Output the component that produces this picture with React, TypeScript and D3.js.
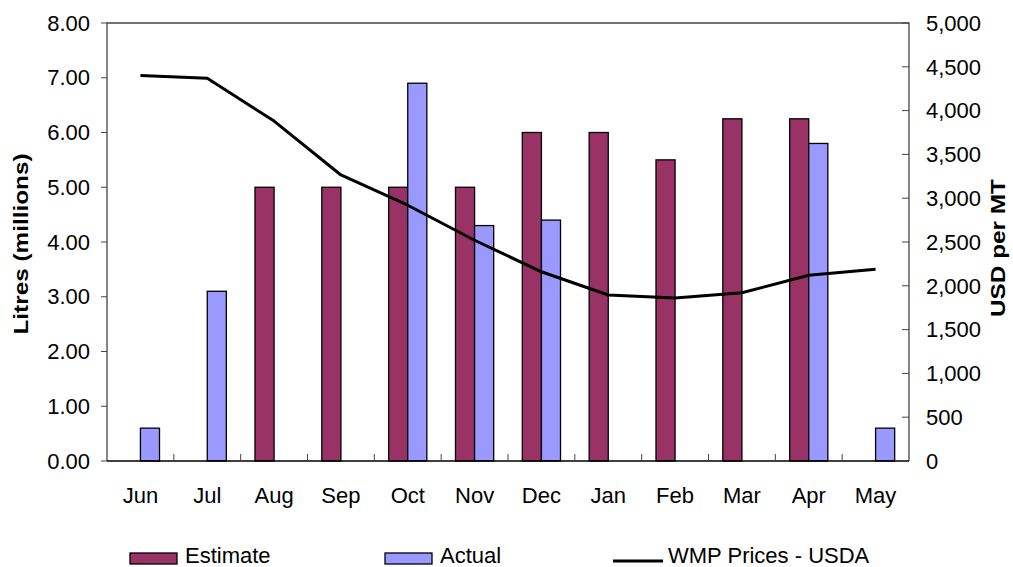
import React, { useEffect, useRef } from 'react';
import * as d3 from 'd3';

const months = ['Jun', 'Jul', 'Aug', 'Sep', 'Oct', 'Nov', 'Dec', 'Jan', 'Feb', 'Mar', 'Apr', 'May'];
const estimate = [0, 0, 5, 5, 5, 5, 6, 6, 5.5, 6.25, 6.25, 0];
const actual = [0.6, 3.1, 0, 0, 6.9, 4.3, 4.4, 0, 0, 0, 5.8, 0.6];
const wmpPrices = [4400, 4370, 3880, 3265, 2920, 2520, 2160, 1895, 1860, 1920, 2120, 2190];
const leftTicks = [0, 1, 2, 3, 4, 5, 6, 7, 8];
const rightTicks = [0, 500, 1000, 1500, 2000, 2500, 3000, 3500, 4000, 4500, 5000];

const W = 1013;
const H = 567;
const margin = { top: 23, right: 110, bottom: 106, left: 107 };
const font = 'Liberation Sans, Arial, sans-serif';
const fs = 22;

export default function App() {
  const ref = useRef<SVGSVGElement>(null);

  useEffect(() => {
    const svg = d3.select(ref.current);
    svg.selectAll('*').remove();

    const x0 = margin.left;
    const x1 = W - margin.right + 6;
    const y0 = H - margin.bottom;
    const y1 = margin.top;

    const x = d3.scaleBand<string>().domain(months).range([x0, x1]).padding(0);
    const yL = d3.scaleLinear().domain([0, 8]).range([y0, y1]);
    const yR = d3.scaleLinear().domain([0, 5000]).range([y0, y1]);
    const bw = x.bandwidth() / 3.5;

    const g = svg.append('g');

    // bars
    const series = [
      { vals: estimate, color: '#993366', off: -bw },
      { vals: actual, color: '#9999FF', off: 0 },
    ];
    series.forEach((s) => {
      g.selectAll(null)
        .data(months.map((m, i) => ({ m, v: s.vals[i] })).filter((d) => d.v > 0))
        .enter()
        .append('rect')
        .attr('x', (d) => (x(d.m) as number) + x.bandwidth() / 2 + s.off)
        .attr('y', (d) => yL(d.v))
        .attr('width', bw)
        .attr('height', (d) => y0 - yL(d.v))
        .attr('fill', s.color)
        .attr('stroke', '#000')
        .attr('stroke-width', 1.3);
    });

    // line
    const line = d3
      .line<number>()
      .x((_, i) => (x(months[i]) as number) + x.bandwidth() / 2)
      .y((d) => yR(d));
    g.append('path')
      .attr('d', line(wmpPrices))
      .attr('fill', 'none')
      .attr('stroke', '#000')
      .attr('stroke-width', 3)
      .attr('stroke-linejoin', 'round');

    // frame
    const axisColor = '#444';
    g.append('path')
      .attr('d', `M${x0},${y0}V${y1}H${x1}V${y0}`)
      .attr('fill', 'none')
      .attr('stroke', axisColor)
      .attr('stroke-width', 1.3);
    g.append('line')
      .attr('x1', x0)
      .attr('x2', x1)
      .attr('y1', y0)
      .attr('y2', y0)
      .attr('stroke', '#000')
      .attr('stroke-width', 1.5);

    // left ticks
    leftTicks.forEach((t) => {
      g.append('line')
        .attr('x1', x0 - 6)
        .attr('x2', x0)
        .attr('y1', yL(t))
        .attr('y2', yL(t))
        .attr('stroke', axisColor);
      g.append('text')
        .attr('x', x0 - 17)
        .attr('y', yL(t))
        .attr('dy', '0.35em')
        .attr('text-anchor', 'end')
        .attr('font-family', font)
        .attr('font-size', fs)
        .text(d3.format('.2f')(t));
    });

    // right ticks
    rightTicks.forEach((t) => {
      g.append('line')
        .attr('x1', x1 - 7)
        .attr('x2', x1)
        .attr('y1', yR(t))
        .attr('y2', yR(t))
        .attr('stroke', axisColor);
      g.append('text')
        .attr('x', x1 + 17)
        .attr('y', yR(t))
        .attr('dy', '0.35em')
        .attr('text-anchor', 'start')
        .attr('font-family', font)
        .attr('font-size', fs)
        .text(d3.format(',')(t));
    });

    // category ticks and labels
    months.forEach((m, i) => {
      if (i > 0) {
        g.append('line')
          .attr('x1', x(m) as number)
          .attr('x2', x(m) as number)
          .attr('y1', y0)
          .attr('y2', y0 - 7)
          .attr('stroke', axisColor);
      }
      g.append('text')
        .attr('x', (x(m) as number) + x.bandwidth() / 2)
        .attr('y', y0 + 34)
        .attr('dy', '0.35em')
        .attr('text-anchor', 'middle')
        .attr('font-family', font)
        .attr('font-size', fs)
        .text(m);
    });

    // axis titles
    g.append('text')
      .attr('transform', `translate(21,244) rotate(-90)`)
      .attr('text-anchor', 'middle')
      .attr('dy', '0.35em')
      .attr('font-family', font)
      .attr('font-weight', 'bold')
      .attr('font-size', 20)
      .attr('textLength', 181)
      .attr('lengthAdjust', 'spacingAndGlyphs')
      .text('Litres (millions)');
    g.append('text')
      .attr('transform', `translate(998,248) rotate(-90)`)
      .attr('text-anchor', 'middle')
      .attr('dy', '0.35em')
      .attr('font-family', font)
      .attr('font-weight', 'bold')
      .attr('font-size', 20)
      .attr('textLength', 138)
      .attr('lengthAdjust', 'spacingAndGlyphs')
      .text('USD per MT');

    // legend
    const ly = 555;
    const lg = g.append('g').attr('font-family', font).attr('font-size', fs);
    [
      { label: 'Estimate', color: '#993366', x: 130 },
      { label: 'Actual', color: '#9999FF', x: 385 },
    ].forEach((l) => {
      lg.append('rect')
        .attr('x', l.x)
        .attr('y', ly - 2)
        .attr('width', 47)
        .attr('height', 11)
        .attr('fill', l.color)
        .attr('stroke', '#000')
        .attr('stroke-width', 1.3);
      lg.append('text')
        .attr('x', l.x + 55)
        .attr('y', ly)
        .attr('dy', '0.35em')
        .text(l.label);
    });
    lg.append('line')
      .attr('x1', 613)
      .attr('x2', 663)
      .attr('y1', ly + 6)
      .attr('y2', ly + 6)
      .attr('stroke', '#000')
      .attr('stroke-width', 3);
    lg.append('text')
      .attr('x', 668)
      .attr('y', ly)
      .attr('dy', '0.35em')
      .text('WMP Prices - USDA');
  }, []);

  return (
    <svg
      ref={ref}
      width={W}
      height={H}
      style={{ position: 'absolute', top: 0, left: 0, display: 'block', background: '#fff' }}
    />
  );
}
